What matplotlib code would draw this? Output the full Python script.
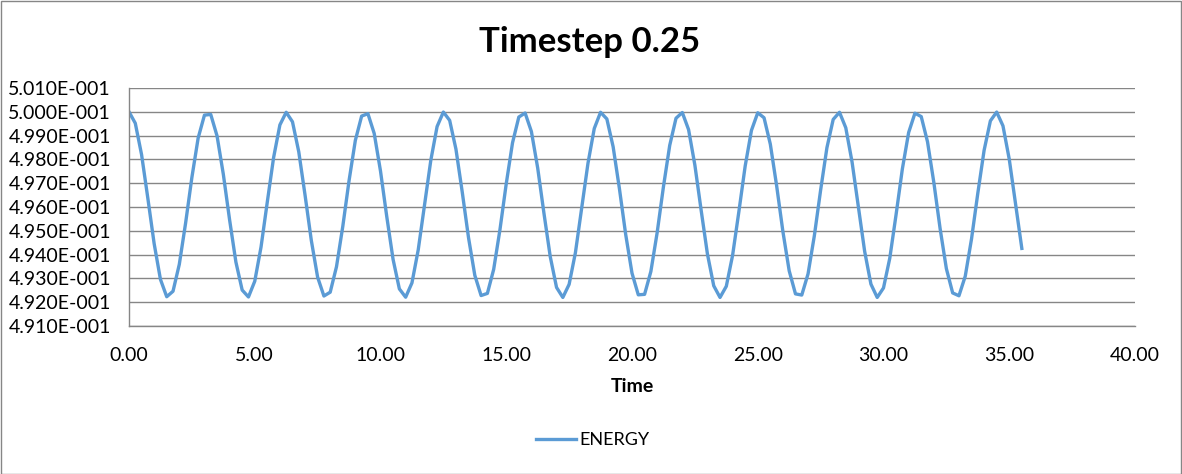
import matplotlib.pyplot as plt
from matplotlib.ticker import FormatStrFormatter, FuncFormatter
from matplotlib.patches import Rectangle

dt = 0.25
energy = [
    0.50000, 0.49952, 0.49820, 0.49636, 0.49446, 0.49296, 0.49223, 0.49246, 0.49359, 0.49532,
    0.49724, 0.49890, 0.49986, 0.49989, 0.49899, 0.49738, 0.49546, 0.49369, 0.49251, 0.49222,
    0.49288, 0.49432, 0.49622, 0.49808, 0.49945, 0.49998, 0.49958, 0.49832, 0.49650, 0.49459,
    0.49305, 0.49226, 0.49242, 0.49349, 0.49518, 0.49711, 0.49880, 0.49982, 0.49992, 0.49909,
    0.49751, 0.49559, 0.49380, 0.49256, 0.49221, 0.49281, 0.49420, 0.49609, 0.49796, 0.49938,
    0.49999, 0.49964, 0.49843, 0.49663, 0.49471, 0.49313, 0.49228, 0.49237, 0.49338, 0.49505,
    0.49698, 0.49870, 0.49978, 0.49995, 0.49917, 0.49764, 0.49573, 0.49391, 0.49262, 0.49220,
    0.49275, 0.49408, 0.49595, 0.49784, 0.49930, 0.49998, 0.49970, 0.49853, 0.49677, 0.49484,
    0.49322, 0.49231, 0.49233, 0.49329, 0.49492, 0.49685, 0.49859, 0.49973, 0.49997, 0.49925,
    0.49776, 0.49586, 0.49402, 0.49269, 0.49220, 0.49267, 0.49397, 0.49581, 0.49772, 0.49922,
    0.49996, 0.49975, 0.49864, 0.49690, 0.49497, 0.49332, 0.49235, 0.49230, 0.49319, 0.49479,
    0.49671, 0.49849, 0.49968, 0.49998, 0.49933, 0.49789, 0.49600, 0.49414, 0.49276, 0.49220,
    0.49260, 0.49385, 0.49568, 0.49760, 0.49913, 0.49994, 0.49980, 0.49874, 0.49704, 0.49510,
    0.49341, 0.49239, 0.49227, 0.49309, 0.49466, 0.49658, 0.49838, 0.49962, 0.49999, 0.49941,
    0.49801, 0.49614, 0.49426,
]
time = [i * dt for i in range(len(energy))]

x_ticks = [0, 5, 10, 15, 20, 25, 30, 35, 40]
y_ticks = [0.491, 0.492, 0.493, 0.494, 0.495, 0.496, 0.497, 0.498, 0.499, 0.500, 0.501]

plt.rcParams['font.family'] = ['Lato', 'DejaVu Sans']

fig = plt.figure(figsize=(11.82, 4.74), dpi=100)
ax = fig.add_axes([129 / 1182, 1 - 326 / 474, (1135 - 129) / 1182, (326 - 88) / 474])

ax.plot(time, energy, color='#5B9BD5', linewidth=2.4, label='ENERGY')

ax.set_xlim(0, 40)
ax.set_ylim(0.491, 0.501)
ax.set_xticks(x_ticks)
ax.set_yticks(y_ticks)
ax.xaxis.set_major_formatter(FormatStrFormatter('%.2f'))


def sci(v, pos):
    return '%.3fE-001' % (v * 10)


ax.yaxis.set_major_formatter(FuncFormatter(sci))
ax.tick_params(length=0, labelsize=14, colors='#000000')
ax.tick_params(axis='x', pad=15)
ax.tick_params(axis='y', pad=13)
ax.grid(axis='y', color='#868686', linewidth=1)
ax.set_axisbelow(True)
for s in ['top', 'right']:
    ax.spines[s].set_visible(False)
for s in ['left', 'bottom']:
    ax.spines[s].set_color('#868686')
    ax.spines[s].set_linewidth(1)

ax.set_xlabel('Time', fontsize=14, fontweight='bold', labelpad=10)
fig.text(590 / 1182, 1 - 42 / 474, 'Timestep 0.25', fontsize=25, fontweight='bold',
         ha='center', va='center')

fig.legend(loc='center', bbox_to_anchor=(593 / 1182, 1 - 440 / 474), frameon=False,
           fontsize=13, handlelength=2.2, handletextpad=0.2)

fig.patches.append(Rectangle((0.5 / 1182, 0.5 / 474), 1 - 1.5 / 1182, 1 - 1.5 / 474,
                             transform=fig.transFigure, fill=False,
                             edgecolor='#868686', linewidth=1))

fig.savefig('out.png', dpi=100)
